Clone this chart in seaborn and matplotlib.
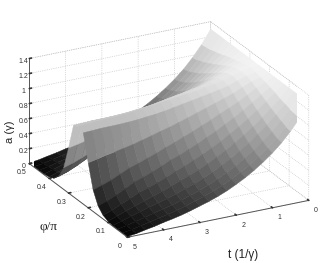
import numpy as np
import matplotlib
matplotlib.use("Agg")
import matplotlib.pyplot as plt
from matplotlib.colors import PowerNorm
import seaborn as sns

sns.set_theme(style="white")
plt.rcParams["font.family"] = ["Liberation Sans", "DejaVu Sans"]

# time axis (1/gamma) and angle axis (phi/pi)
t_vals = [0, 0.25, 0.5, 0.75, 1, 1.25, 1.5, 1.75, 2, 2.25, 2.5, 2.75, 3, 3.25, 3.5, 3.75, 4, 4.25, 4.5, 4.75, 5]
phi_vals = [0, 0.025, 0.05, 0.075, 0.1, 0.125, 0.15, 0.175, 0.2, 0.225, 0.25,
            0.275, 0.3, 0.325, 0.35, 0.375, 0.4, 0.425, 0.45, 0.475, 0.5]

# a(gamma), one row per t value
a_t000 = [1.30, 1.30, 1.30, 1.30, 1.30, 1.30, 1.30, 1.30, 1.30, 1.30, 1.30, 1.30, 1.30, 1.30, 1.30, 1.30, 1.30, 1.30, 1.30, 1.30, 1.30]
a_t025 = [1.12, 1.13, 1.14, 1.16, 1.18, 1.21, 1.23, 1.25, 1.27, 1.285, 1.29, 1.285, 1.27, 1.25, 1.23, 1.21, 1.18, 1.16, 1.14, 1.13, 1.12]
a_t050 = [.97, .985, 1.01, 1.045, 1.08, 1.12, 1.16, 1.20, 1.235, 1.26, 1.27, 1.26, 1.235, 1.20, 1.16, 1.12, 1.08, 1.045, 1.01, .985, .97]
a_t075 = [.84, .856, .892, .932, .98, 1.028, 1.08, 1.132, 1.184, 1.224, 1.24, 1.224, 1.184, 1.132, 1.08, 1.028, .98, .932, .892, .856, .84]
a_t100 = [.73, .749, .786, .833, .885, .942, 1.003, 1.068, 1.13, 1.181, 1.20, 1.181, 1.13, 1.068, 1.003, .942, .885, .833, .786, .749, .73]
a_t125 = [.635, .655, .693, .741, .798, .86, .93, 1.01, 1.09, 1.155, 1.18, 1.155, 1.09, 1.01, .93, .86, .798, .741, .693, .655, .635]
a_t150 = [.55, .571, .611, .66, .721, .788, .867, .959, 1.05, 1.13, 1.16, 1.13, 1.05, .959, .867, .788, .721, .66, .611, .571, .55]
a_t175 = [.475, .497, .534, .583, .645, .715, .80, .90, 1.01, 1.11, 1.14, 1.11, 1.01, .90, .80, .715, .645, .583, .534, .497, .475]
a_t200 = [.41, .431, .467, .517, .58, .651, .744, .85, .971, 1.085, 1.12, 1.085, .971, .85, .744, .651, .58, .517, .467, .431, .41]
a_t225 = [.35, .37, .405, .45, .514, .59, .684, .796, .93, 1.065, 1.105, 1.065, .93, .796, .684, .59, .514, .45, .405, .37, .35]
a_t250 = [.30, .32, .351, .395, .458, .537, .632, .75, .893, 1.043, 1.09, 1.043, .893, .75, .632, .537, .458, .395, .351, .32, .30]
a_t275 = [.257, .275, .303, .345, .406, .483, .58, .70, .855, 1.02, 1.075, 1.02, .855, .70, .58, .483, .406, .345, .303, .275, .257]
a_t300 = [.22, .237, .262, .304, .363, .438, .539, .657, .825, 1.001, 1.06, 1.001, .825, .657, .539, .438, .363, .304, .262, .237, .22]
a_t325 = [.183, .197, .221, .26, .313, .383, .482, .607, .79, .99, 1.045, .99, .79, .607, .482, .383, .313, .26, .221, .197, .183]
a_t350 = [.15, .163, .185, .22, .269, .335, .432, .564, .757, .977, 1.03, .977, .757, .564, .432, .335, .269, .22, .185, .163, .15]
a_t375 = [.123, .134, .154, .186, .228, .292, .386, .52, .725, .97, 1.02, .97, .725, .52, .386, .292, .228, .186, .154, .134, .123]
a_t400 = [.10, .109, .127, .155, .191, .255, .346, .482, .70, .965, 1.01, .965, .70, .482, .346, .255, .191, .155, .127, .109, .10]
a_t425 = [.072, .08, .093, .118, .147, .197, .28, .426, .675, .963, 1.005, .963, .675, .426, .28, .197, .147, .118, .093, .08, .072]
a_t450 = [.05, .055, .064, .083, .106, .144, .219, .37, .652, .962, 1.0, .962, .652, .37, .219, .144, .106, .083, .064, .055, .05]
a_t475 = [.025, .028, .034, .045, .06, .09, .165, .325, .625, .955, .99, .955, .625, .325, .165, .09, .06, .045, .034, .028, .025]
a_t500 = [.01, .01, .01, .01, .02, .05, .125, .287, .60, .95, .98, .95, .60, .287, .125, .05, .02, .01, .01, .01, .01]

a_rows = [a_t000, a_t025, a_t050, a_t075, a_t100, a_t125, a_t150, a_t175, a_t200, a_t225, a_t250,
          a_t275, a_t300, a_t325, a_t350, a_t375, a_t400, a_t425, a_t450, a_t475, a_t500]

t_ticks = [0, 1, 2, 3, 4, 5]
phi_ticks = [0, 0.1, 0.2, 0.3, 0.4, 0.5]
a_ticks = [0, 0.2, 0.4, 0.6, 0.8, 1, 1.2, 1.4]
a_ticklabels = ["0", "0.2", "0.4", "0.6", "0.8", "1", "1.2", "1.4"]

T, PHI = np.meshgrid(t_vals, phi_vals, indexing="ij")
A = np.array(a_rows)

fig = plt.figure(figsize=(3.21, 2.63), dpi=100)
ax = fig.add_axes([5 / 321, -1.5 / 263, 1, 1], projection="3d", proj_type="ortho")
ax.view_init(elev=23, azim=-117.5)
ax.set_box_aspect((204, 212, 114), zoom=1.167)

# facet colour: mean along t, first corner along phi
C = A.copy()
C[:-1] = (A[:-1] + A[1:]) / 2
cmap = sns.color_palette("gray", as_cmap=True)
colors = cmap(PowerNorm(0.8, vmin=0, vmax=1.38)(C))
ax.plot_surface(T, PHI, A, facecolors=colors, rstride=1, cstride=1,
                linewidth=0.3, antialiased=True, shade=False)

ax.set_xlim(5, 0, view_margin=0)
ax.set_ylim(0, 0.5, view_margin=0)
ax.set_zlim(0, 1.4, view_margin=0)
ax.set_xticks(t_ticks)
ax.set_yticks(phi_ticks)
ax.set_zticks(a_ticks)
ax.set_yticklabels([str(v) for v in phi_ticks])
ax.set_zticklabels(a_ticklabels)

for axis in (ax.xaxis, ax.yaxis, ax.zaxis):
    axis.set_pane_color((1, 1, 1, 0))
    axis.pane.set_edgecolor((1, 1, 1, 0))
    axis.line.set_color("#555555")
    axis.line.set_linewidth(0.7)
    axis._axinfo["grid"].update(color="#bbbbbb", linestyle=":", linewidth=0.5)
    axis._axinfo["tick"].update(inward_factor=0.0, outward_factor=0.15)
    axis.set_tick_params(labelsize=5, pad=-4, colors="#333333", width=0.5)
ax.zaxis.set_tick_params(pad=-6)
ax.tick_params(axis="x", labelbottom=False, labeltop=False)

ax.grid(True)

# t labels sit further along the axis than the default offset puts them
for t in t_ticks:
    ax.text(t, -0.036, -0.063, str(t), fontsize=5, color="#333333", ha="center", va="center")

# dotted outline of the back walls
ax.plot([0, 5], [0.5, 0.5], [1.4, 1.4], color="#bbbbbb", ls=":", lw=0.5)
ax.plot([0, 0], [0, 0.5], [1.4, 1.4], color="#bbbbbb", ls=":", lw=0.5)
ax.plot([0, 0], [0, 0], [0, 1.4], color="#bbbbbb", ls=":", lw=0.5)

fig.text(0.031, 0.5, "a (γ)", rotation=90, fontsize=8, ha="center", va="center", color="#222222")
fig.text(0.15, 0.137, "φ/π", fontsize=9.5, family=["Liberation Serif", "DejaVu Serif"], ha="center", va="center", color="#222222")
fig.text(0.757, 0.03, "t (1/γ)", fontsize=8.5, ha="center", va="center", color="#222222")

fig.savefig("out.png", dpi=100)
